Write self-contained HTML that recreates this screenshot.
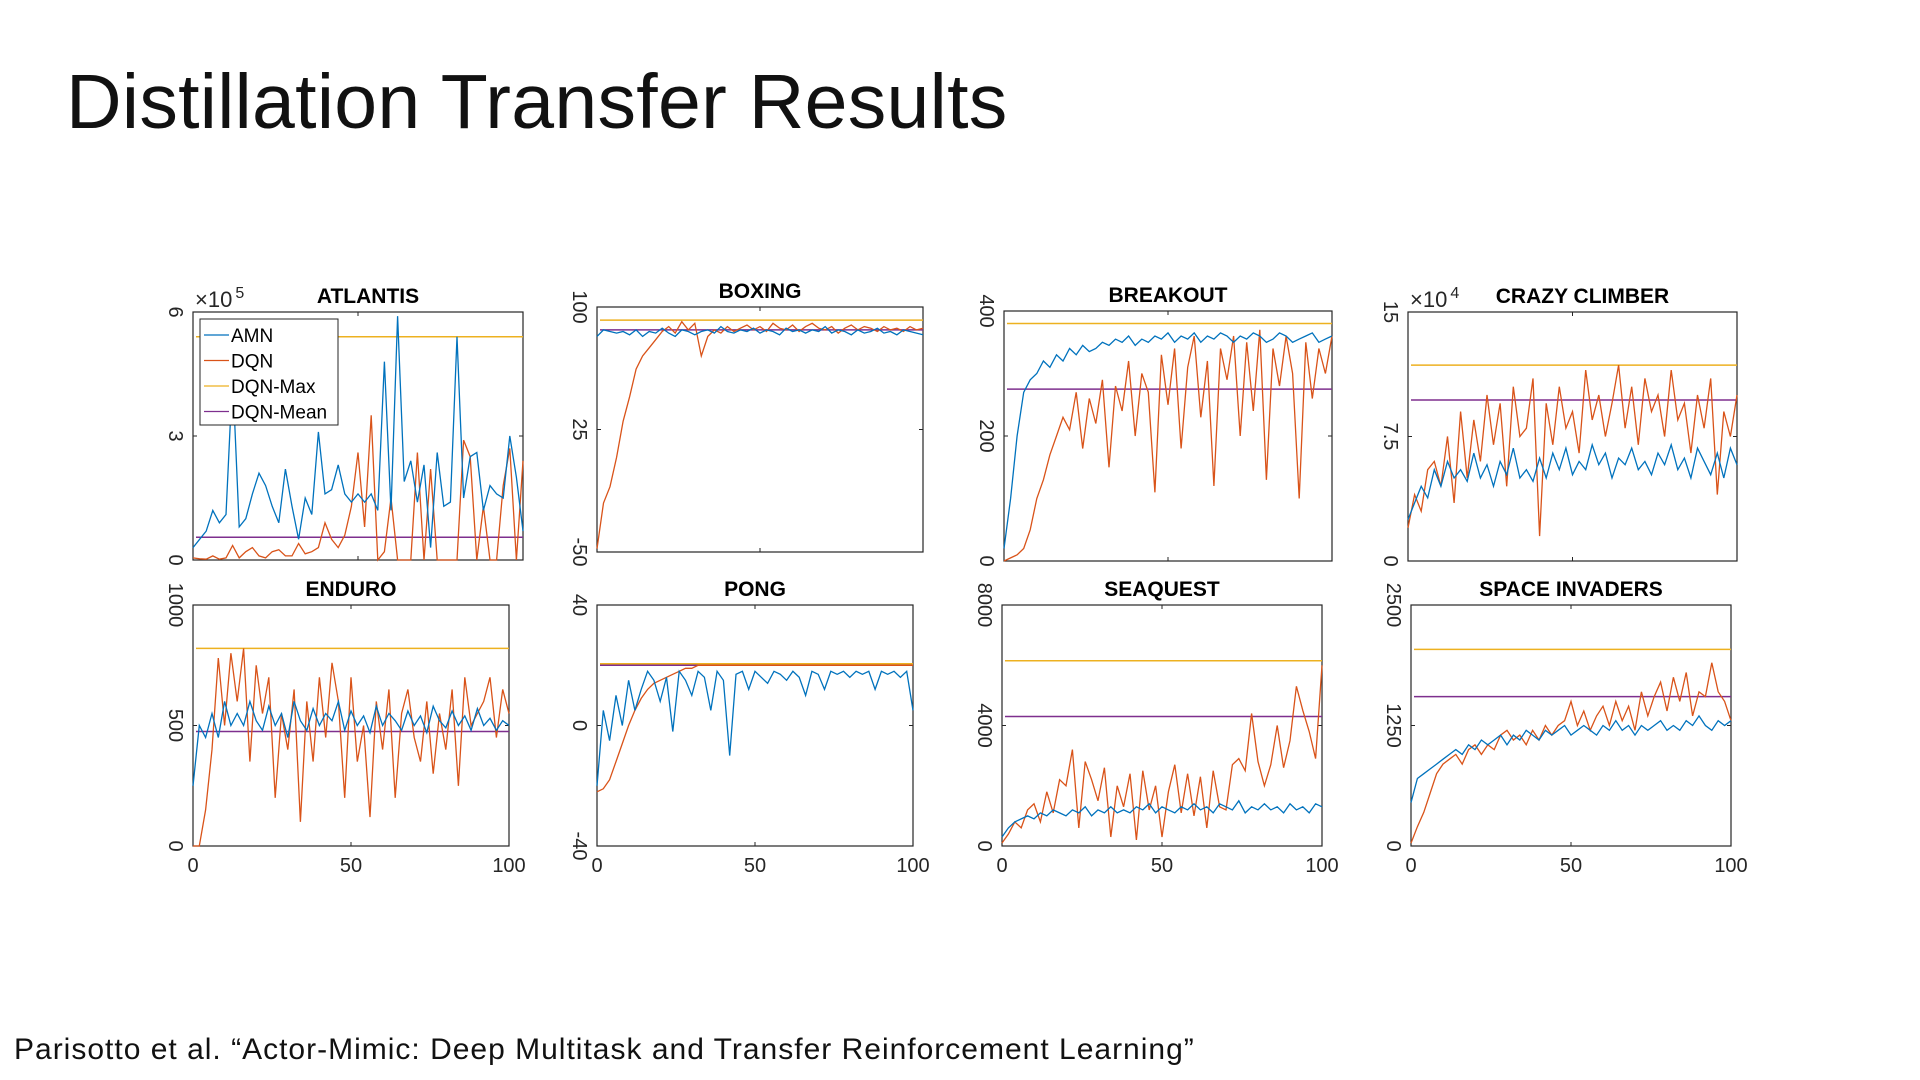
<!DOCTYPE html>
<html><head><meta charset="utf-8">
<style>
body{margin:0;width:1920px;height:1080px;background:#fff;overflow:hidden;font-family:"Liberation Sans",sans-serif;}
#title{position:absolute;left:66px;top:58px;font-size:77px;color:#111;white-space:nowrap;letter-spacing:0.3px;}
#cite{position:absolute;left:14px;top:1033px;font-size:30px;color:#111;white-space:nowrap;letter-spacing:1.0px;}
svg{position:absolute;left:0;top:0;}
</style></head><body>
<div id="title">Distillation Transfer Results</div>
<div id="cite">Parisotto et al. “Actor-Mimic: Deep Multitask and Transfer Reinforcement Learning”</div>
<svg id="chart" width="1920" height="1080"></svg>
<script>
const xTicks=[0,50,100];
const atlantisAMN=[0.3,0.5,0.7,1.2,0.9,1.1,4.5,0.8,1.0,1.6,2.1,1.8,1.3,0.9,2.2,1.3,0.5,1.5,1.1,3.1,1.6,1.7,2.3,1.6,1.4,1.6,1.4,1.6,1.2,4.8,1.2,5.9,1.9,2.4,1.4,2.3,0.3,2.6,1.3,1.4,5.4,1.5,2.5,2.6,1.2,1.8,1.6,1.5,3.0,2.0,0.7];
const atlantisDQN=[0.05,0.03,0.02,0.1,0.02,0.05,0.35,0.05,0.2,0.3,0.1,0.05,0.2,0.25,0.1,0.1,0.4,0.15,0.2,0.3,0.9,0.5,0.3,0.6,1.3,2.6,0.8,3.5,0,0.2,1.5,0,0,0,2.6,0,2.2,0,0,0,0,2.9,2.5,0,1.3,0,0,1.8,2.7,0,2.4];
const boxingAMN=[82,86,85,84,85,83,86,82,85,84,87,84,82,86,85,83,85,86,84,88,85,84,86,85,87,84,86,85,83,87,85,86,84,86,85,88,84,86,85,83,86,84,85,87,84,85,83,86,85,84,83];
const boxingDQN=[-48,-20,-10,8,30,45,62,70,75,80,85,88,84,91,86,90,70,82,86,84,88,85,87,89,86,88,85,90,87,86,89,85,88,90,87,86,88,84,87,89,86,88,87,85,88,86,87,85,88,86,87];
const breakoutAMN=[20,100,200,270,290,300,320,310,330,320,340,330,345,335,340,350,345,355,350,360,345,355,350,360,355,365,350,360,355,365,350,360,355,365,360,350,360,355,365,360,350,355,365,360,350,355,360,365,350,355,360];
const breakoutDQN=[0,5,10,20,50,100,130,170,200,230,210,270,180,260,220,290,150,280,240,320,200,300,270,110,330,250,340,180,310,360,230,320,120,340,290,360,200,350,240,370,130,340,280,360,300,100,350,260,340,300,360];
const climberAMN=[2.5,3.5,4.5,3.8,5.5,4.5,6.0,5.0,5.5,4.8,6.5,5.0,5.8,4.5,6.0,5.2,6.8,5.0,5.5,4.8,6.2,5.0,6.5,5.5,6.8,5.2,6.0,5.5,7.0,5.8,6.5,5.0,6.2,5.8,6.8,5.5,6.0,5.2,6.5,5.8,7.0,5.5,6.2,5.0,6.8,6.0,5.2,6.5,5.0,6.8,5.8];
const climberDQN=[2.0,4.0,3.0,5.5,6.0,4.5,7.5,3.5,9.0,5.0,8.5,6.0,10.0,7.0,9.5,4.5,10.5,7.5,8.0,11.0,1.5,9.5,7.0,10.5,8.0,9.0,6.5,11.5,8.5,10.0,7.5,9.5,11.8,8.0,10.5,7.0,11.0,9.0,10.0,7.5,11.5,8.5,9.5,6.5,10.0,8.0,11.0,4.0,9.0,7.5,10.0];
const enduroAMN=[250,500,450,550,450,600,500,550,500,600,520,480,580,500,550,450,600,520,480,570,500,550,520,600,480,560,500,540,470,580,500,550,520,480,560,500,540,470,580,520,490,560,500,540,480,570,500,530,480,520,500];
const enduroDQN=[0,0,150,400,780,500,800,600,820,350,750,550,700,200,550,400,650,100,600,350,700,450,760,600,200,700,350,500,120,600,400,650,200,550,650,450,350,600,300,550,400,650,250,700,500,550,600,700,450,650,550];
const pongAMN=[-20,5,-5,10,0,15,5,12,18,15,8,16,-2,18,15,10,18,16,5,18,15,-10,17,18,12,18,16,14,18,17,15,18,16,10,18,17,12,18,17,18,16,18,17,18,12,18,17,18,16,18,5];
const pongDQN=[-22,-21,-18,-12,-6,0,5,9,12,14,15,16,17,18,19,19,20,20,20,20,20,20,20,20,20,20,20,20,20,20,20,20,20,20,20,20,20,20,20,20,20,20,20,20,20,20,20,20,20,20,20];
const seaquestAMN=[300,600,800,900,1000,900,1100,1000,1200,1100,1000,1200,1100,1300,1000,1200,1100,1300,1100,1200,1100,1300,1200,1400,1100,1300,1200,1100,1300,1200,1400,1200,1300,1100,1400,1300,1200,1500,1100,1300,1200,1400,1200,1300,1100,1400,1200,1300,1100,1400,1300];
const seaquestDQN=[100,400,800,600,1200,1400,800,1800,1100,2200,2000,3200,600,2800,2200,1500,2600,300,2000,1300,2400,200,2500,1200,2000,300,1800,2700,1100,2400,1000,2300,600,2500,1300,1200,2700,2900,2500,4400,2800,2000,2700,4000,2600,3500,5300,4500,3800,2900,6000];
const invadersAMN=[450,700,750,800,850,900,950,1000,950,1050,1000,1100,1050,1100,1150,1050,1150,1100,1200,1150,1100,1200,1150,1200,1250,1150,1200,1250,1200,1150,1250,1200,1300,1200,1250,1150,1250,1200,1250,1300,1200,1250,1200,1300,1250,1350,1250,1200,1300,1250,1300];
const invadersDQN=[30,200,350,550,750,850,900,950,850,1000,1050,950,1050,1000,1150,1200,1100,1150,1050,1200,1100,1250,1150,1250,1300,1500,1250,1400,1200,1350,1450,1250,1500,1300,1450,1200,1600,1350,1550,1700,1400,1750,1500,1800,1350,1600,1550,1900,1600,1500,1300];
const dqnMax=[5.4,92,380,11.8,820,20.5,6150,2040];
const dqnMean=[0.55,86,275,9.7,475,20,4300,1550];
const yTickLabels=[["0","3","6"],["-50","25","100"],["0","200","400"],["0","7.5","15"],["0","500","1000"],["-40","0","40"],["0","4000","8000"],["0","1250","2500"]];
const yTickValues=[[0,3,6],[-50,25,100],[0,200,400],[0,7.5,15],[0,500,1000],[-40,0,40],[0,4000,8000],[0,1250,2500]];
const titles=["ATLANTIS","BOXING","BREAKOUT","CRAZY CLIMBER","ENDURO","PONG","SEAQUEST","SPACE INVADERS"];
const amnSeries=[atlantisAMN,boxingAMN,breakoutAMN,climberAMN,enduroAMN,pongAMN,seaquestAMN,invadersAMN];
const dqnSeries=[atlantisDQN,boxingDQN,breakoutDQN,climberDQN,enduroDQN,pongDQN,seaquestDQN,invadersDQN];
const exponents=["5",null,null,"4",null,null,null,null];
// layout boxes [left, top, right, bottom]
const boxes=[[193,312,523,560],[597,307,923,552],[1004,311,1332,561],[1408,312,1737,561],
             [193,605,509,846],[597,605,913,846],[1002,605,1322,846],[1411,605,1731,846]];
const C={amn:"#0072BD",dqn:"#D95319",max:"#EDB120",mean:"#7E2F8E"};
const svg=document.getElementById('chart');
const NS="http://www.w3.org/2000/svg";
function mk(tag,attrs,parent){const e=document.createElementNS(NS,tag);for(const k in attrs)e.setAttribute(k,attrs[k]);(parent||svg).appendChild(e);return e;}
const slugs=["atlantis","boxing","breakout","crazy-climber","enduro","pong","seaquest","space-invaders"];
boxes.forEach((b,i)=>{
  const [L,T,R,B]=b;
  const g=mk('g',{});
  
  
  const yv=yTickValues[i];const ymin=yv[0],ymax=yv[2];
  const xs=v=>L+(v-0)/(100-0)*(R-L);
  const ys=v=>B-(v-ymin)/(ymax-ymin)*(B-T);
  const frame=mk('rect',{x:L,y:T,width:R-L,height:B-T,fill:'#fff',stroke:'#262626','stroke-width':1.2},g);
  
  
  xTicks.forEach(t=>{
    const x=xs(t);
    mk('line',{x1:x,y1:B,x2:x,y2:B-4,stroke:'#262626'},g);
    mk('line',{x1:x,y1:T,x2:x,y2:T+4,stroke:'#262626'},g);
    if(i>=4){
      const tx=mk('text',{x:x,y:B+26,'font-size':20,'text-anchor':'middle',fill:'#262626'},g);
      tx.textContent=t;
      
      
    }
  });
  yv.forEach((t,j)=>{
    const y=ys(t);
    mk('line',{x1:L,y1:y,x2:L+4,y2:y,stroke:'#262626'},g);
    mk('line',{x1:R,y1:y,x2:R-4,y2:y,stroke:'#262626'},g);
    const tx=mk('text',{x:L-18,y:y,'font-size':20,'text-anchor':'middle',fill:'#262626',transform:`rotate(90 ${L-18} ${y})`,'dominant-baseline':'central'},g);
    tx.textContent=yTickLabels[i][j];
    
    
  });
  const tt=mk('text',{x:exponents[i]?(L+R)/2+10:(L+R)/2,y:T-9,'font-size':21,'font-weight':'bold','text-anchor':'middle',fill:'#000'},g);
  tt.textContent=titles[i];
  
  
  if(exponents[i]){
    const ex=mk('text',{x:L+2,y:T-5,'font-size':22,fill:'#262626'},g);
    ex.textContent='×10';
    
    
    const sp=mk('tspan',{dy:-9,dx:3,'font-size':16},ex);sp.textContent=exponents[i];
  }
  const lm=mk('line',{x1:L+3,x2:R,y1:ys(dqnMax[i]),y2:ys(dqnMax[i]),stroke:C.max,'stroke-width':1.5},g);
  
  
  const ln=mk('line',{x1:L+3,x2:R,y1:ys(dqnMean[i]),y2:ys(dqnMean[i]),stroke:C.mean,'stroke-width':1.5},g);
  
  
  const pts=arr=>arr.map((v,k)=>xs(k*100/(arr.length-1)).toFixed(1)+','+ys(v).toFixed(1)).join(' ');
  const pd=mk('polyline',{points:pts(dqnSeries[i]),fill:'none',stroke:C.dqn,'stroke-width':1.3},g);
  
  
  const pa=mk('polyline',{points:pts(amnSeries[i]),fill:'none',stroke:C.amn,'stroke-width':1.3},g);
  
  
  if(i===0){
    const lg=mk('g',{},g);
    
    
    mk('rect',{x:L+7,y:T+7,width:138,height:106,fill:'#fff',stroke:'#262626','stroke-width':1},lg);
    [["AMN",C.amn],["DQN",C.dqn],["DQN-Max",C.max],["DQN-Mean",C.mean]].forEach((e,k)=>{
      const yy=T+23+k*25.5;
      mk('line',{x1:L+11,x2:L+36,y1:yy,y2:yy,stroke:e[1],'stroke-width':1.3},lg);
      const t=mk('text',{x:L+38,y:yy+7,'font-size':19,fill:'#000'},lg);
      t.textContent=e[0];
      
      
    });
  }
});
</script>
</body></html>
